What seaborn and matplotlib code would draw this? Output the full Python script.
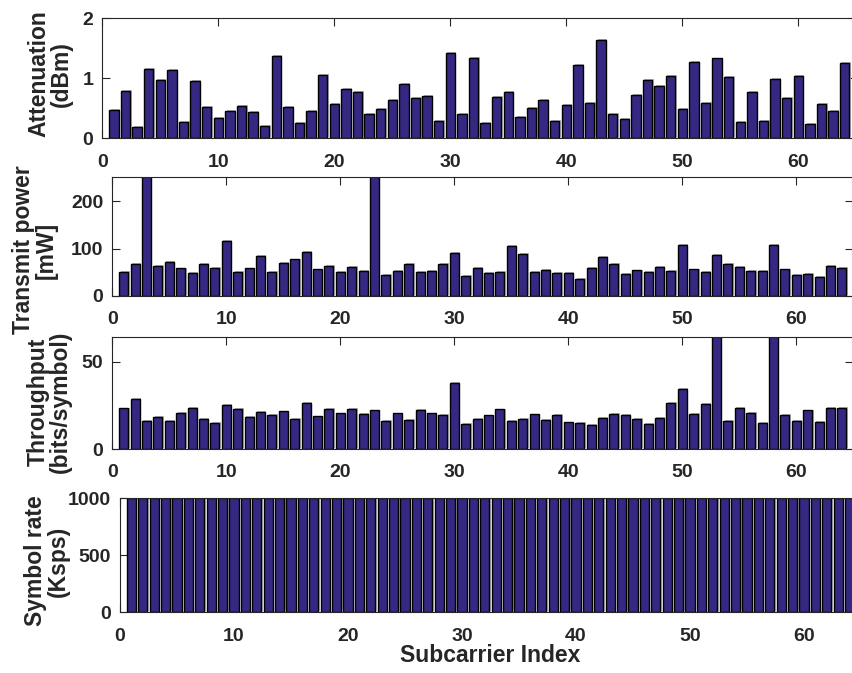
import matplotlib
matplotlib.use("Agg")
import matplotlib.pyplot as plt
import matplotlib.patheffects as pe
import seaborn as sns
import pandas as pd

# ---------------- data ----------------
subcarrier = list(range(1, 65))

attenuation = [0.47, 0.79, 0.19, 1.16, 0.98, 1.14, 0.28, 0.96, 0.52, 0.34,
               0.45, 0.54, 0.44, 0.21, 1.38, 0.52, 0.26, 0.45, 1.06, 0.57,
               0.83, 0.77, 0.40, 0.49, 0.64, 0.90, 0.68, 0.70, 0.29, 1.42,
               0.41, 1.34, 0.25, 0.69, 0.77, 0.35, 0.50, 0.64, 0.29, 0.56,
               1.22, 0.59, 1.64, 0.41, 0.33, 0.73, 0.98, 0.87, 1.04, 0.49,
               1.27, 0.59, 1.33, 1.02, 0.27, 0.77, 0.29, 0.99, 0.68, 1.04,
               0.24, 0.58, 0.45, 1.25]

transmit_power = [51, 67, 300, 63, 72, 58, 48, 67, 60, 116,
                  51, 58, 84, 51, 70, 77, 93, 56, 63, 51,
                  61, 53, 300, 44, 52, 67, 51, 53, 68, 90,
                  43, 60, 48, 51, 105, 88, 51, 55, 48, 49,
                  36, 59, 82, 67, 46, 54, 51, 62, 53, 107,
                  56, 51, 86, 67, 62, 52, 53, 108, 56, 44,
                  47, 40, 63, 60]

throughput = [23.3, 28.7, 16.3, 18.3, 16.0, 20.8, 23.7, 17.3, 15.0, 25.2,
              22.9, 18.3, 21.2, 19.6, 21.5, 17.3, 26.3, 18.7, 23.1, 20.4,
              22.9, 20.0, 22.1, 16.0, 20.4, 16.7, 22.3, 20.4, 19.4, 37.7,
              14.2, 17.3, 19.2, 22.7, 16.2, 17.1, 19.8, 16.5, 19.4, 15.2,
              14.8, 14.0, 17.9, 20.0, 19.4, 17.3, 14.6, 17.7, 26.2, 34.4,
              20.0, 25.6, 70.0, 16.3, 23.5, 20.8, 15.0, 70.0, 19.6, 16.2,
              22.1, 15.6, 23.5, 23.7]

symbol_rate = [1000, 1000, 1000, 1000, 1000, 1000, 1000, 1000, 1000, 1000,
               1000, 1000, 1000, 1000, 1000, 1000, 1000, 1000, 1000, 1000,
               1000, 1000, 1000, 1000, 1000, 1000, 1000, 1000, 1000, 1000,
               1000, 1000, 1000, 1000, 1000, 1000, 1000, 1000, 1000, 1000,
               1000, 1000, 1000, 1000, 1000, 1000, 1000, 1000, 1000, 1000,
               1000, 1000, 1000, 1000, 1000, 1000, 1000, 1000, 1000, 1000,
               1000, 1000, 1000, 1000]

ylabels = ["Attenuation\n(dBm)", "Transmit power\n[mW]",
           "Throughput\n(bits/symbol)", "Symbol rate\n(Ksps)"]
ylims = [(0, 2), (0, 250), (0, 64), (0, 1000)]
yticks = [[0, 1, 2], [0, 100, 200], [0, 50], [0, 500, 1000]]
xticks = [0, 10, 20, 30, 40, 50, 60]
xlabel = "Subcarrier Index"

# ---------------- style ----------------
sns.set_theme(style="white")
plt.rcParams["font.family"] = ["Liberation Sans", "DejaVu Sans"]
plt.rcParams["font.weight"] = "bold"

W, H = 853, 673
fig = plt.figure(figsize=(W / 100, H / 100), dpi=100)
fig.patch.set_facecolor("white")

TXT = "#262626"
BAR = "#342882"

# axes rectangles in pixels: left, top, right, bottom
rects = [(102.3, 18.3, 102.3 + 65 * 11.6, 138.3),
         (112.3, 177.3, 112.3 + 65 * 11.4, 296.0),
         (112.3, 337.3, 112.3 + 65 * 11.4, 449.0),
         (120.0, 498.3, 120.0 + 65 * 11.4, 612.3)]
label_pos = [(50, 74), (35, 250), (49, 402), (47, 561)]

series = [attenuation, transmit_power, throughput, symbol_rate]
shadow = [pe.SimplePatchShadow(offset=(1.0, 0.6), shadow_rgbFace="#b4b4b4",
                               alpha=1.0), pe.Normal()]

for i, (vals, rect) in enumerate(zip(series, rects)):
    l, t, r, b = rect
    ax = fig.add_axes([l / W, 1 - b / H, (r - l) / W, (b - t) / H])
    df = pd.DataFrame({"idx": subcarrier, "val": vals})
    sns.barplot(data=df, x="idx", y="val", native_scale=True, width=0.8,
                color=BAR, saturation=1, edgecolor="black", linewidth=1.0,
                ax=ax, zorder=2)
    for p in ax.patches:
        p.set_path_effects(shadow)
    ax.set_xlim(0, 65)
    ax.set_ylim(*ylims[i])
    ax.set_yticks(yticks[i])
    ax.set_xticks(xticks)
    ax.set_xticklabels([str(v) for v in xticks])
    ax.set_yticklabels([str(v) for v in yticks[i]])
    ax.tick_params(axis="both", direction="in", length=6, width=0.8,
                   colors=TXT, labelsize=14, top=True, right=True,
                   bottom=True, left=True)
    ax.tick_params(axis="x", pad=11)
    ax.tick_params(axis="y", pad=6.5)
    for lab in ax.get_xticklabels() + ax.get_yticklabels():
        lab.set_fontweight("bold")
        lab.set_color(TXT)
    for s in ax.spines.values():
        s.set_visible(True)
        s.set_color(TXT)
        s.set_linewidth(0.8)
        s.set_zorder(3)
    ax.set_xlabel("")
    ax.set_ylabel(ylabels[i], fontsize=16.5, fontweight="bold", color=TXT,
                  va="center", ha="center", linespacing=0.95)
    lx, ly = label_pos[i]
    ax.yaxis.set_label_coords(lx / W, 1 - ly / H, transform=fig.transFigure)
    ax.grid(False)
    ax.set_facecolor("white")
    if i == 3:
        ax.set_xlabel(xlabel, fontsize=16.5, fontweight="bold", color=TXT,
                      va="center")
        ax.xaxis.set_label_coords(490.5 / W, 1 - 656 / H,
                                  transform=fig.transFigure)

fig.savefig("out.png", dpi=100, facecolor="white")
